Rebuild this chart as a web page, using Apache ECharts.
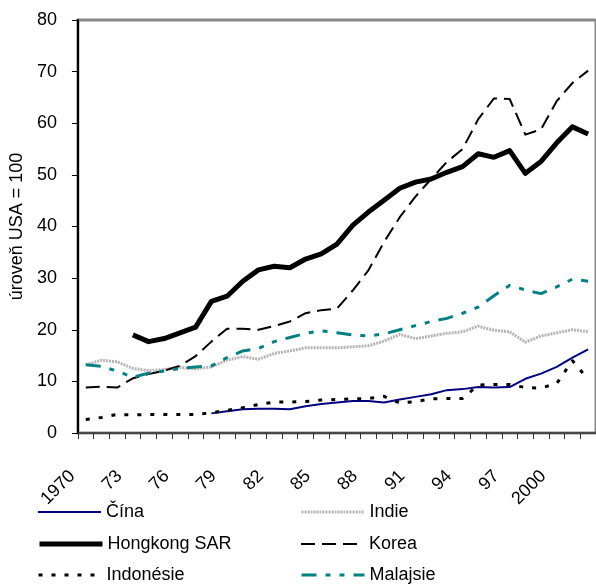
<!DOCTYPE html>
<html>
<head>
<meta charset="utf-8">
<script src="https://cdn.jsdelivr.net/npm/echarts@6/dist/echarts.min.js"></script>
<style>
  html, body { margin: 0; padding: 0; background: #fff; }
  #chart { width: 596px; height: 588px; }
</style>
</head>
<body>
<div id="chart"></div>
<script>
// Categories (years 1970–2002) as shown on the axis
const categories = ['1970','71','72','73','74','75','76','77','78','79',
  '80','81','82','83','84','85','86','87','88','89',
  '90','91','92','93','94','95','96','97','98','99',
  '2000','01','02'];

// Tick labels shown on the y axis
const yTicks = [0, 10, 20, 30, 40, 50, 60, 70, 80];

// Series values (level, USA = 100)
const cina = [null,null,null,null,null,null,null,null,3.8,4.2,
  4.6,4.7,4.7,4.6,5.2,5.6,5.9,6.2,6.2,5.9,
  6.5,7.0,7.5,8.3,8.5,8.9,8.8,8.9,10.5,11.5,
  12.8,14.6,16.2];
const indie = [13.2,14.1,13.8,12.5,12.1,12.3,12.7,12.4,12.8,14.1,
  14.8,14.3,15.4,15.9,16.5,16.5,16.5,16.7,16.9,17.8,
  19.1,18.3,18.8,19.3,19.6,20.7,19.9,19.6,17.6,18.8,
  19.4,20.0,19.6];
const hongkong = [null,null,null,19.0,17.7,18.3,19.4,20.5,25.5,26.5,
  29.4,31.6,32.3,32.0,33.7,34.7,36.6,40.2,42.8,45.1,
  47.4,48.6,49.2,50.5,51.6,54.1,53.4,54.7,50.3,52.6,
  56.2,59.3,57.9];
const korea = [8.8,9.0,8.8,10.6,11.4,12.1,13.0,14.9,17.7,20.2,
  20.2,20.0,20.7,21.6,23.2,23.8,24.1,27.6,31.5,37.0,
  41.8,45.8,49.2,52.5,55.0,60.8,64.8,64.7,57.8,58.8,
  64.3,67.8,70.2];
const indonesie = [2.6,3.0,3.6,3.5,3.6,3.6,3.6,3.6,3.9,4.4,
  4.9,5.5,6.0,6.0,6.1,6.4,6.5,6.6,6.7,7.1,
  5.8,6.1,6.6,6.7,6.7,9.3,9.4,9.4,8.8,8.7,
  9.6,14.0,10.4];
const malajsie = [13.2,12.9,12.0,10.8,11.6,12.0,12.5,12.8,13.0,14.6,
  15.9,16.4,17.7,18.5,19.3,19.8,19.4,19.0,18.8,19.2,
  20.0,20.8,21.6,22.2,23.2,24.4,26.6,28.6,27.7,27.0,
  28.3,29.8,29.4];

const FONT = '"Liberation Sans", Arial, sans-serif';

const chart = echarts.init(document.getElementById('chart'), null, { renderer: 'canvas' });

function line(name, data, color, width, type) {
  return {
    name: name,
    type: 'line',
    data: data,
    symbol: 'none',
    connectNulls: false,
    animation: false,
    lineStyle: { color: color, width: width, type: type, cap: 'butt', join: 'round' },
    itemStyle: { color: color }
  };
}

const seriesDefs = [
  line('Čína', cina, '#000080', 2, 'solid'),
  line('Indie', indie, '#b4b4b4', 3, [2, 1]),
  line('Hongkong SAR', hongkong, '#000000', 5, 'solid'),
  line('Korea', korea, '#000000', 2, [14, 7]),
  line('Indonésie', indonesie, '#000000', 3, [4, 9]),
  line('Malajsie', malajsie, '#008080', 3, [15, 9, 5, 9, 5, 9])
];

const legendText = { fontFamily: FONT, fontSize: 18, color: '#000', lineHeight: 20 };

function legendItem(name, width, left, top) {
  return {
    left: left, top: top,
    itemWidth: 63, itemHeight: 14,
    padding: 0,
    selectedMode: false,
    textStyle: legendText,
    data: [{
      name: name,
      lineStyle: { width: width },
      itemStyle: { opacity: 0, color: 'rgba(0,0,0,0)', borderWidth: 0 }
    }]
  };
}

chart.setOption({
  animation: false,
  backgroundColor: '#fff',
  grid: {
    left: 72, top: 20, width: 530, height: 413, containLabel: false,
    show: true, borderColor: '#888888', borderWidth: 3, backgroundColor: 'rgba(0,0,0,0)'
  },
  legend: [
    legendItem('Čína', 2, 37, 502),
    legendItem('Hongkong SAR', 5, 37, 534),
    legendItem('Indonésie', 3, 37, 565),
    legendItem('Indie', 3, 300, 502),
    legendItem('Korea', 2, 300, 534),
    legendItem('Malajsie', 3, 300, 565)
  ],
  xAxis: {
    type: 'category',
    data: categories,
    boundaryGap: true,
    axisLine: { show: true, onZero: false, lineStyle: { color: '#333', width: 1.5 } },
    axisTick: { show: true, interval: 0, length: 6, lineStyle: { color: '#333', width: 1 } },
    axisLabel: {
      interval: 2, rotate: 45, margin: 27,
      padding: [0, 19, 0, 0],
      fontFamily: FONT, fontSize: 18, color: '#000'
    },
    splitLine: { show: false }
  },
  yAxis: {
    type: 'value',
    min: yTicks[0],
    max: yTicks[yTicks.length - 1],
    interval: 10,
    name: 'úroveň USA = 100',
    nameLocation: 'middle',
    nameGap: 46,
    nameTextStyle: { fontFamily: FONT, fontSize: 18, color: '#000' },
    axisLine: { show: true, lineStyle: { color: '#000', width: 2 } },
    axisTick: { show: true, length: 6, lineStyle: { color: '#000' } },
    axisLabel: { margin: 21, fontFamily: FONT, fontSize: 18, color: '#000' },
    splitLine: { show: false }
  },
  series: seriesDefs
});
</script>
</body>
</html>
